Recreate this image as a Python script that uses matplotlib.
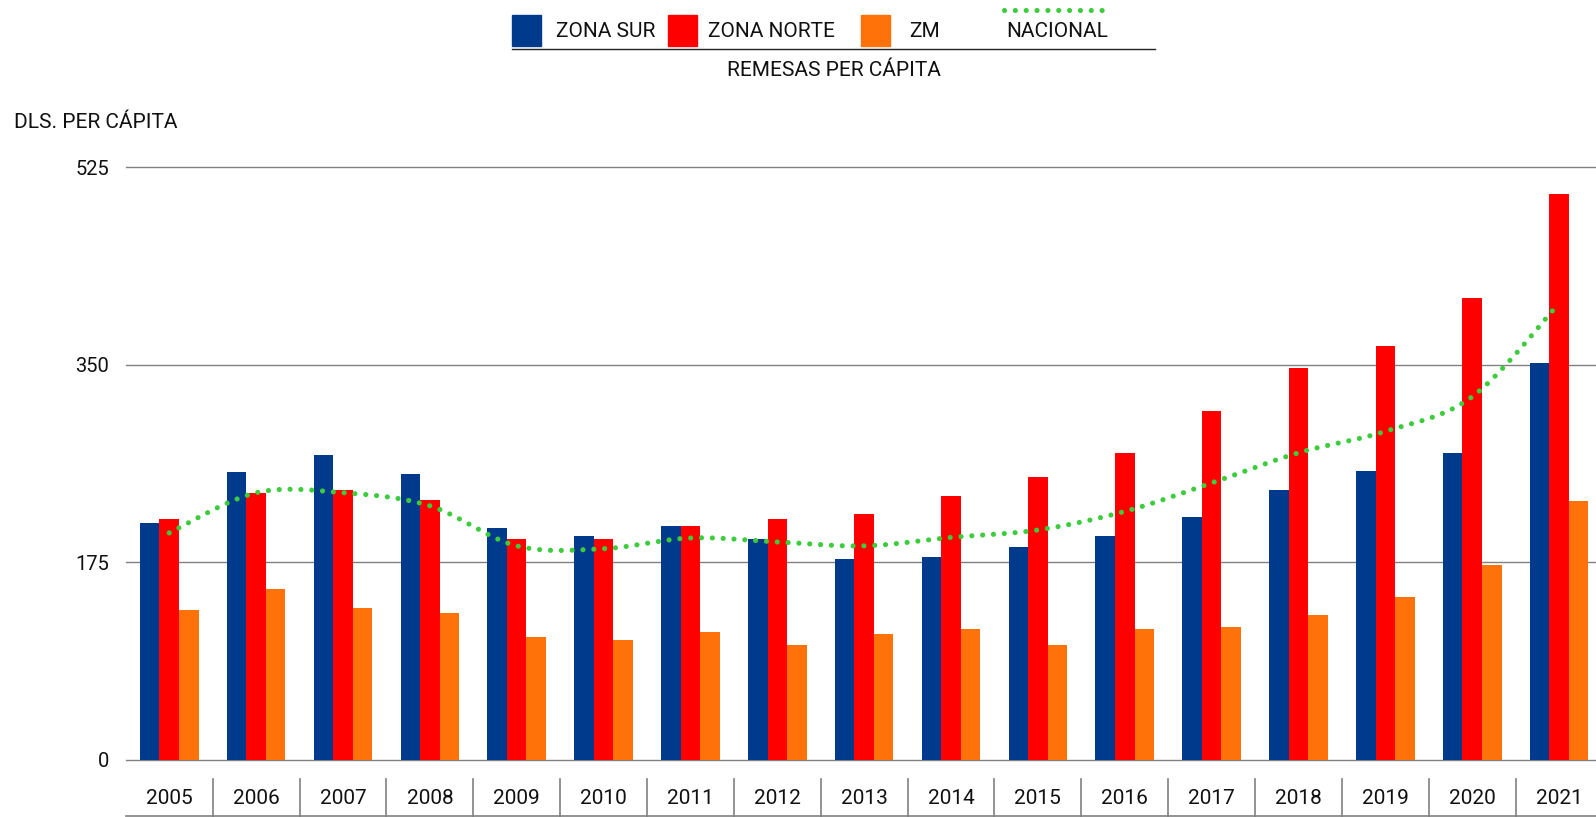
import numpy as np
import matplotlib
matplotlib.use("Agg")
import matplotlib.pyplot as plt
from matplotlib.patches import Rectangle
from matplotlib.lines import Line2D

plt.rcParams['font.family'] = ['Roboto', 'DejaVu Sans']

years = ['2005', '2006', '2007', '2008', '2009', '2010', '2011', '2012', '2013',
         '2014', '2015', '2016', '2017', '2018', '2019', '2020', '2021']
zona_sur = [210, 255, 270, 253.5, 205.7, 198.5, 207.5, 196, 177.7,
            179.5, 188.5, 198.5, 214.7, 239, 255.5, 271.7, 352]
zona_norte = [213, 236, 239, 230, 196, 196, 207.5, 213, 217.4,
              233.6, 250.8, 271.5, 309.4, 347.3, 366.3, 409, 501.4]
zm = [132.6, 151.5, 134, 130, 109, 106, 113.6, 102, 111,
      115.5, 102, 115.5, 118, 128, 144.3, 172.3, 229.2]
nacional = [201, 236.6, 236.6, 225, 189.5, 187, 196.5, 193, 189.5,
            197, 203.6, 220, 245.2, 272, 291, 321.7, 404.5]
yticks = [0, 175, 350, 525]

C_SUR = '#003a8c'
C_NORTE = '#ff0000'
C_ZM = '#ff7209'
C_NAC = '#3ccc3c'
C_GRID = '#808080'
C_TXT = '#111111'
DOTS = (0, (0.01, 2.1))


def catmull_rom(x, y, n=30):
    # smooth curve through the points (Catmull-Rom, endpoints duplicated)
    px = np.concatenate([[x[0]], x, [x[-1]]])
    py = np.concatenate([[y[0]], y, [y[-1]]])
    xs, ys = [], []
    t = np.linspace(0, 1, n, endpoint=False)
    for i in range(1, len(px) - 2):
        for q, out in ((px, xs), (py, ys)):
            a, b, c, d = q[i - 1], q[i], q[i + 1], q[i + 2]
            out.append(0.5 * ((2 * b) + (-a + c) * t
                              + (2 * a - 5 * b + 4 * c - d) * t ** 2
                              + (-a + 3 * b - 3 * c + d) * t ** 3))
    xs.append([x[-1]])
    ys.append([y[-1]])
    return np.concatenate(xs), np.concatenate(ys)


W, H = 1596, 817
fig = plt.figure(figsize=(W / 100, H / 100), dpi=100)
left, right = 125.8, 1602.5
y0, ytop = 759.7, 167.3
ax = fig.add_axes([left / W, (H - y0) / H, (right - left) / W, (y0 - ytop) / H])

x = np.arange(len(years))
bw = 0.225
ax.bar(x - bw, zona_sur, bw, color=C_SUR, zorder=2)
ax.bar(x, zona_norte, bw, color=C_NORTE, zorder=2)
ax.bar(x + bw, zm, bw, color=C_ZM, zorder=2)

sx, sy = catmull_rom(x.astype(float), np.array(nacional, dtype=float))
ax.plot(sx, sy, color=C_NAC, lw=3.7, linestyle=DOTS,
        dash_capstyle='round', zorder=3)

ax.set_xlim(-0.5, len(years) - 0.5)
ax.set_ylim(0, 525)
for v in yticks:
    ax.axhline(v, color=C_GRID, lw=1.0, zorder=1, clip_on=False)
for s in ax.spines.values():
    s.set_visible(False)
ax.set_xticks([])
ax.set_yticks(yticks)
ax.set_yticklabels([str(v) for v in yticks], fontsize=14.5)
ax.tick_params(axis='y', length=0, pad=12, labelcolor=C_TXT)

# year row under the plot with separators
trans = ax.get_xaxis_transform()
ax_h = y0 - ytop
y_sep_top = (y0 - 779) / ax_h
y_bottom = (y0 - 816) / ax_h
y_lab = (y0 - 799) / ax_h
for i in range(len(years) - 1):
    ax.plot([i + 0.5, i + 0.5], [y_sep_top, y_bottom - 0.01], color=C_GRID,
            lw=1.2, transform=trans, clip_on=False)
ax.plot([-0.5, len(years) - 0.5], [y_bottom, y_bottom], color=C_GRID, lw=1.2,
        transform=trans, clip_on=False)
for i, yr in enumerate(years):
    ax.text(i, y_lab, yr, transform=trans, ha='center', va='center',
            fontsize=15, color=C_TXT)

fig.text(14 / W, 1 - 122 / H, 'DLS. PER CÁPITA', ha='left', va='center',
         fontsize=15, color=C_TXT)


# legend header
def fx(px):
    return px / W


def fy(py):
    return 1 - py / H


for x0, col in ((512, C_SUR), (668, C_NORTE), (861, C_ZM)):
    fig.patches.append(Rectangle((fx(x0), fy(46)), 29 / W, 31 / H,
                                 color=col, transform=fig.transFigure))
for xt, txt in ((556, 'ZONA SUR'), (708, 'ZONA NORTE'), (909, 'ZM'), (1006, 'NACIONAL')):
    fig.text(fx(xt), fy(31.5), txt, ha='left', va='center', fontsize=15,
             color=C_TXT)
fig.lines.append(Line2D([fx(1004), fx(1112)], [fy(10), fy(10)], color=C_NAC,
                        lw=3.7, linestyle=DOTS,
                        dash_capstyle='round', transform=fig.transFigure))
fig.lines.append(Line2D([fx(512), fx(1155)], [fy(49), fy(49)], color='#222222',
                        lw=1.0, transform=fig.transFigure))
fig.text(fx(834), fy(71), 'REMESAS PER CÁPITA', ha='center', va='center',
         fontsize=15, color=C_TXT)

fig.savefig('out.png', dpi=100)
